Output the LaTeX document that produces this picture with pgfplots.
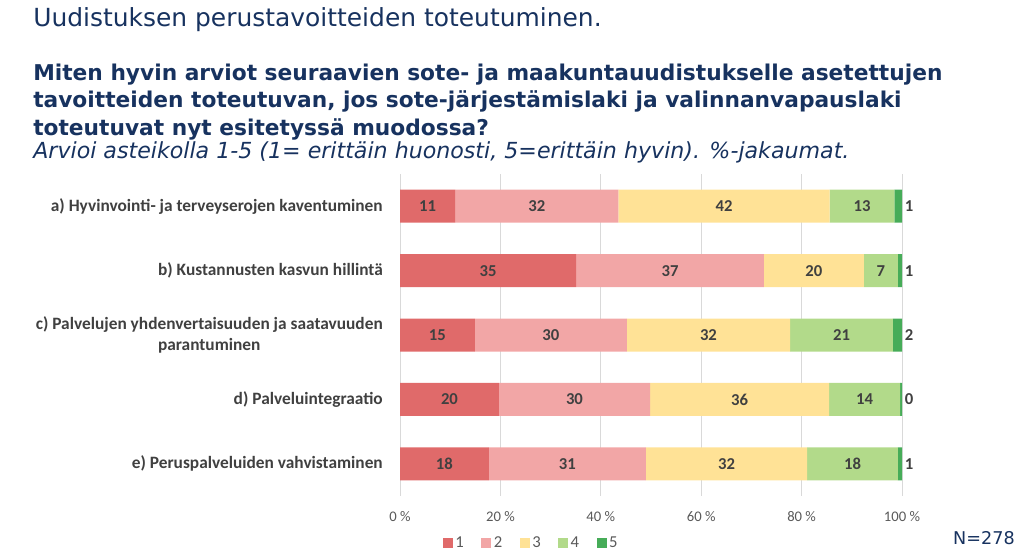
\documentclass[border=0pt]{standalone}
\usepackage{fontspec}
\setmainfont{Carlito}
\newfontfamily\titlefont{DejaVu Sans}
\usepackage{pgfplots}
\usepackage{pgfplotstable}
\pgfplotsset{compat=1.18}

\definecolor{c1}{RGB}{224,106,106}
\definecolor{c2}{RGB}{242,166,166}
\definecolor{c3}{RGB}{255,226,150}
\definecolor{c4}{RGB}{178,218,138}
\definecolor{c5}{RGB}{70,172,88}
\definecolor{navy}{RGB}{23,50,95}
\definecolor{lab}{RGB}{64,64,64}
\definecolor{tickc}{RGB}{89,89,89}
\definecolor{gridc}{RGB}{217,217,217}

\pgfplotstableread{
y s1 s2 s3 s4 s5
0 11.0 32.5 42.1 12.9 1.5
1 35.1 37.4 19.9 6.8 0.8
2 14.9 30.3 32.5 20.5 1.8
3 19.7 30.1 35.7 14.1 0.4
4 17.7 31.3 32.1 18.1 0.8
}\bars

\pgfplotstableread{
x y lab
5.5 0 11
27.25 0 32
64.55 0 42
92.05 0 13
17.55 1 35
53.8 1 37
82.45 1 20
95.8 1 7
7.45 2 15
30.05 2 30
61.45 2 32
87.95 2 21
9.85 3 20
34.75 3 30
67.65 3 36
92.55 3 14
8.85 4 18
33.35 4 31
65.05 4 32
90.15 4 18
}\labs

\pgfplotstableread{
x y lab
100.5 0 1
100.5 1 1
100.5 2 2
100.5 3 0
100.5 4 1
}\labsfive

\begin{document}
\begin{tikzpicture}
\path[use as bounding box] (0pt,0pt) rectangle (767.25pt,-418.5pt);

\node[anchor=base west, inner sep=0pt, text=navy, font=\titlefont\fontsize{18.7}{22}\selectfont] at (24.75pt,-19.75pt) {Uudistuksen perustavoitteiden toteutuminen.};
\node[anchor=base west, inner sep=0pt, text=navy, font=\titlefont\bfseries\fontsize{16.3}{20}\selectfont] at (24.75pt,-60pt) {Miten hyvin arviot seuraavien sote- ja maakuntauudistukselle asetettujen};
\node[anchor=base west, inner sep=0pt, text=navy, font=\titlefont\bfseries\fontsize{16.3}{20}\selectfont] at (24.75pt,-80.6pt) {tavoitteiden toteutuvan, jos sote-järjestämislaki ja valinnanvapauslaki};
\node[anchor=base west, inner sep=0pt, text=navy, font=\titlefont\bfseries\fontsize{16.3}{20}\selectfont] at (24.75pt,-101.25pt) {toteutuvat nyt esitetyssä muodossa?};
\node[anchor=base west, inner sep=0pt, text=navy, font=\titlefont\itshape\fontsize{16.6}{20}\selectfont] at (24.75pt,-118.5pt) {Arvioi asteikolla 1-5 (1= erittäin huonosti, 5=erittäin hyvin). \%-jakaumat.};

\begin{axis}[
  at={(300pt,-372pt)}, anchor=south west,
  scale only axis, width=376.5pt, height=241.5pt,
  xmin=0, xmax=100, ymin=-0.5, ymax=4.5, y dir=reverse,
  xbar stacked, bar width=24.75pt,
  axis line style={draw=none},
  major tick length=0pt,
  xtick={0,20,...,100},
  xticklabel={\pgfmathprintnumber{\tick}~\%},
  xticklabel style={anchor=center, yshift=-15.75pt, font=\fontsize{11}{13}\selectfont, text=tickc},
  /pgf/number format/assume math mode=true,
  xmajorgrids, grid style={gridc, line width=0.75pt},
  ytick={0,1,2,3,4},
  yticklabels={a) Hyvinvointi- ja terveyserojen kaventuminen,
    b) Kustannusten kasvun hillintä,
    {c) Palvelujen yhdenvertaisuuden ja saatavuuden\\parantuminen},
    d) Palveluintegraatio,
    e) Peruspalveluiden vahvistaminen},
  yticklabel style={anchor=east, align=center, inner sep=0pt, xshift=-12.75pt, font=\bfseries\fontsize{13}{16}\selectfont, text=lab},
  legend columns=5,
  legend style={at={(0.262,-0.146)}, anchor=center, draw=none, fill=none,
    font=\fontsize{12.5}{14}\selectfont, text=tickc,
    /tikz/every even column/.append style={column sep=11pt}},
  legend image code/.code={\fill[#1,draw=none] (0pt,-3.75pt) rectangle (7.5pt,3.75pt);},
]
\addplot[fill=c1, draw=none] table[x=s1,y=y]{\bars};
\addplot[fill=c2, draw=none] table[x=s2,y=y]{\bars};
\addplot[fill=c3, draw=none] table[x=s3,y=y]{\bars};
\addplot[fill=c4, draw=none] table[x=s4,y=y]{\bars};
\addplot[fill=c5, draw=none] table[x=s5,y=y]{\bars};
\legend{1,2,3,4,5}
\end{axis}

\begin{axis}[
  at={(300pt,-372pt)}, anchor=south west,
  scale only axis, width=376.5pt, height=241.5pt,
  xmin=0, xmax=100, ymin=-0.5, ymax=4.5, y dir=reverse,
  hide axis, clip=false,
]
\addplot[only marks, mark=none, nodes near coords, point meta=explicit symbolic,
  nodes near coords style={anchor=center, font=\bfseries\fontsize{12.5}{14}\selectfont, text=lab}]
  table[x=x,y=y,meta=lab]{\labs};
\addplot[only marks, mark=none, nodes near coords, point meta=explicit symbolic,
  nodes near coords style={anchor=west, inner sep=0pt, font=\bfseries\fontsize{12.5}{14}\selectfont, text=lab}]
  table[x=x,y=y,meta=lab]{\labsfive};
\end{axis}

\node[anchor=base east, inner sep=0pt, text=navy, font=\titlefont\fontsize{13.2}{16}\selectfont] at (761.25pt,-408pt) {N=278};
\end{tikzpicture}
\end{document}
